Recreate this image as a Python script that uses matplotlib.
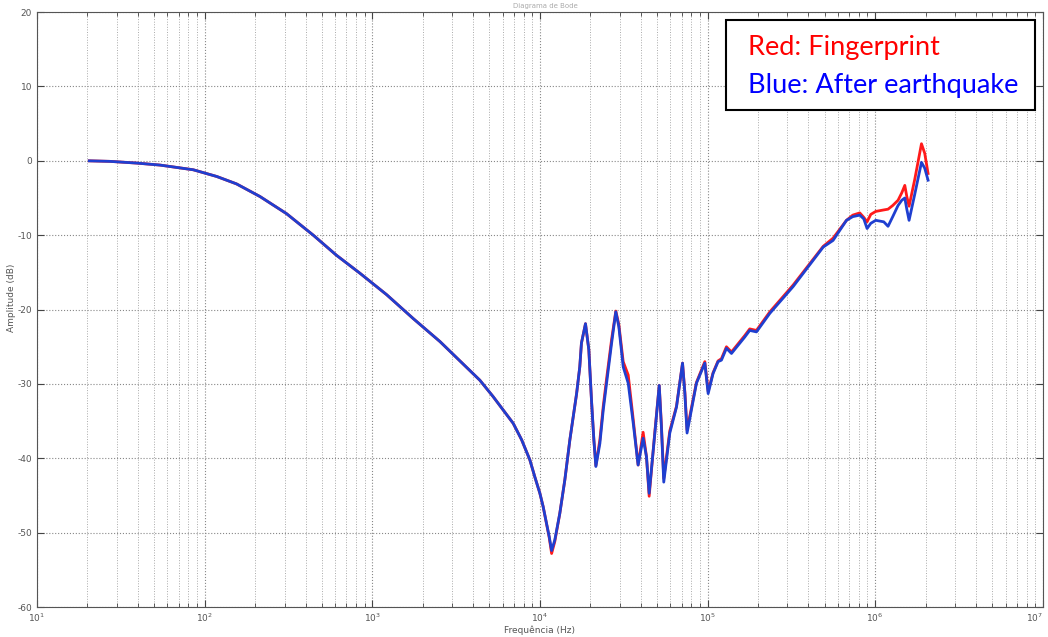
import matplotlib
matplotlib.use('Agg')
import matplotlib.pyplot as plt
from matplotlib.patches import Rectangle
from matplotlib.ticker import LogLocator, NullFormatter

plt.rcParams['axes.unicode_minus'] = False

# Frequency points (Hz)
freq_hz = [20.5, 27.2, 39.3, 54.2, 85.5, 118, 155, 214, 308, 445, 612, 843, 1219, 1754,
           2535, 4385, 5260, 6934, 7780, 8710, 9330, 10000, 10460,
           11360, 11750, 12270, 13150, 14090, 15100, 16560, 17300, 17700, 18710, 19590,
           20320, 20990, 21580,
           22800, 23880, 25000, 26790, 28380, 29580, 31410, 33650, 36060, 38550, 41300,
           43250, 44870,
           48530, 51520, 53090, 54830, 59570, 65310, 70960, 73280, 75510, 85900, 96390,
           100900, 107900,
           115600, 121100, 129700, 139000, 166700, 178600, 195900, 235500, 324300,
           489800, 561000, 674500,
           735600, 809700, 855500, 895400, 941900, 1008800, 1126000, 1194000, 1274000,
           1370000, 1442000, 1503000, 1545000, 1594000, 1723000, 1890000, 1977000, 2069000]

# Fingerprint (red), dB
fingerprint_db = [0.0, -0.07, -0.3, -0.57, -1.2, -2.1, -3.1, -4.8, -7.1, -10.0, -12.7, -15.1, -18.0, -21.2,
                  -24.3, -29.5, -31.7, -35.3, -37.5, -40.2, -42.5, -44.7, -46.5,
                  -50.6, -52.8, -51.2, -47.4, -42.9, -37.5, -31.3, -27.7, -24.5, -21.9, -25.4,
                  -32.2, -37.5, -41.0,
                  -37.5, -33.0, -29.3, -24.0, -20.2, -22.0, -27.0, -28.8, -34.8, -40.9, -36.5,
                  -39.8, -45.1,
                  -36.4, -30.2, -35.5, -42.7, -36.3, -33.0, -27.2, -31.1, -36.2, -29.8, -27.0,
                  -31.0, -28.5,
                  -26.9, -26.6, -25.0, -25.7, -23.5, -22.6, -22.8, -20.3, -16.7,
                  -11.5, -10.4, -8.0,
                  -7.3, -7.0, -7.6, -8.2, -7.2, -6.8, -6.6, -6.5, -6.0,
                  -5.3, -4.3, -3.3, -4.8, -6.1, -2.5, 2.3, 1.0, -1.7]

# After earthquake (blue), dB
after_quake_db = [0.0, -0.07, -0.3, -0.57, -1.2, -2.1, -3.1, -4.8, -7.1, -10.0, -12.7, -15.1, -18.0, -21.2,
                  -24.3, -29.5, -31.7, -35.3, -37.5, -40.2, -42.5, -44.7, -46.5,
                  -50.5, -52.4, -51.0, -47.4, -42.9, -37.5, -31.3, -27.7, -24.5, -21.9, -25.4,
                  -32.2, -37.5, -41.1,
                  -38.0, -33.5, -29.9, -24.5, -20.3, -22.3, -27.7, -29.9, -35.3, -40.9, -37.3,
                  -39.8, -44.7,
                  -36.6, -30.2, -35.8, -43.2, -36.6, -33.1, -27.2, -31.3, -36.6, -29.9, -27.2,
                  -31.3, -28.6,
                  -27.0, -26.8, -25.2, -25.9, -23.7, -22.8, -23.0, -20.5, -16.9,
                  -11.6, -10.7, -8.0,
                  -7.5, -7.3, -7.8, -9.1, -8.4, -8.0, -8.2, -8.8, -7.5,
                  -6.0, -5.3, -5.0, -6.5, -8.0, -4.5, -0.2, -1.0, -2.6]

x_ticks = [1e1, 1e2, 1e3, 1e4, 1e5, 1e6, 1e7]

fig = plt.figure(figsize=(10.48, 6.37), dpi=100)
ax = fig.add_axes([0.0353, 0.047, 0.9597, 0.934])

ax.plot(freq_hz, fingerprint_db, color='#ff1a1a', linewidth=2.0, solid_joinstyle='round')
ax.plot(freq_hz, after_quake_db, color='#1f3fd0', linewidth=2.0, solid_joinstyle='round')

ax.set_xscale('log')
ax.set_xlim(10, 1e7)
ax.set_ylim(-60, 20)
ax.set_yticks(range(-60, 21, 10))
ax.set_xticks(x_ticks)
ax.xaxis.set_minor_locator(LogLocator(base=10, subs=range(2, 10), numticks=100))
ax.xaxis.set_minor_formatter(NullFormatter())
ax.get_xticklabels()[-1].set_horizontalalignment('right')

ax.grid(True, which='major', linestyle=':', color='#888888', linewidth=0.8)
ax.grid(True, which='minor', axis='x', linestyle=':', color='#aaaaaa', linewidth=0.7)

ax.tick_params(which='both', direction='in', top=True, right=True,
               labelsize=6.5, labelcolor='#555555', color='#444444')
ax.tick_params(which='major', length=5)
ax.tick_params(which='minor', length=3)
for s in ax.spines.values():
    s.set_color('#555555')

ax.set_xlabel('Frequência (Hz)', fontsize=6.5, color='#555555', labelpad=1)
ax.set_ylabel('Amplitude (dB)', fontsize=6.5, color='#555555')
ax.yaxis.set_label_coords(-0.021, 0.52)
fig.text(0.52, 0.99, 'Diagrama de Bode', fontsize=5, color='#aaaaaa', ha='center', va='center')

# legend box drawn as plain text in a frame
fig.patches.append(Rectangle((0.6927, 0.8273), 0.2949, 0.1413, transform=fig.transFigure,
                             facecolor='white', edgecolor='black', linewidth=1.5, zorder=5))
fig.text(0.7137, 1 - 48 / 637, 'Red: Fingerprint', color='#ff0000', fontsize=19.5,
         family='Lato', ha='left', va='center', zorder=6)
fig.text(0.7137, 1 - 86 / 637, 'Blue: After earthquake', color='#0000ff', fontsize=19.5,
         family='Lato', ha='left', va='center', zorder=6)

fig.savefig('out.png', dpi=100)
